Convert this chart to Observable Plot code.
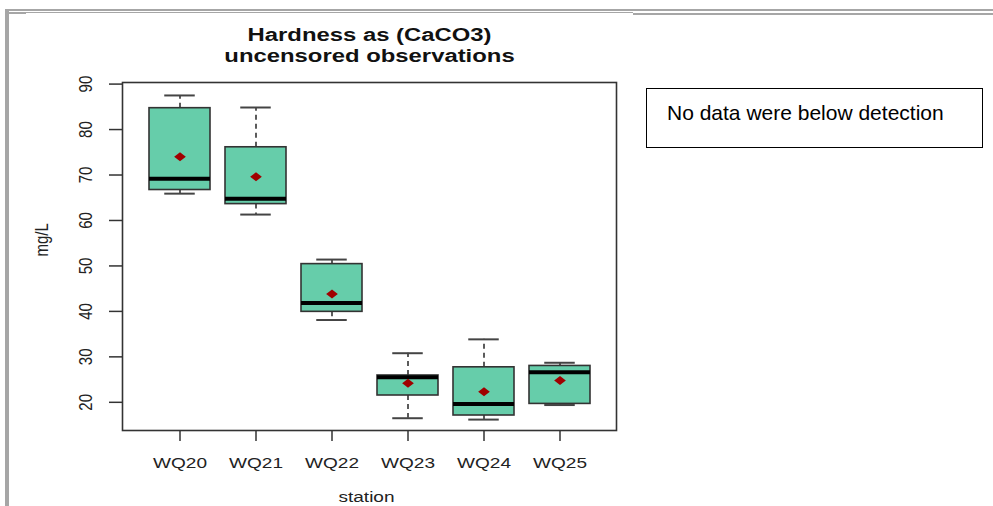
<!DOCTYPE html>
<html>
<head>
<meta charset="utf-8">
<script src="https://cdn.jsdelivr.net/npm/d3@7"></script>
<script src="https://cdn.jsdelivr.net/npm/@observablehq/plot@0.6"></script>
<style>
  html, body { margin: 0; padding: 0; background: #fff; }
  #wrap { position: relative; width: 993px; height: 506px; overflow: hidden; background: #fff; }
  #wrap svg { position: absolute; left: 0; top: 0; }
  .g { position: absolute; background: #a6a6a6; }
  #legend { position: absolute; left: 646px; top: 88px; width: 335px; height: 58px;
    border: 1.5px solid #000; box-sizing: content-box; background: #fff;
    font-family: "Liberation Sans", Arial, sans-serif; font-size: 21px; color: #000; }
  #legend span { position: absolute; left: 20px; top: 12px; white-space: nowrap; }
</style>
</head>
<body>
<div id="wrap">
  <div class="g" style="left:5px;top:9px;width:988px;height:2px"></div>
  <div class="g" style="left:7px;top:12px;width:626px;height:1px"></div>
  <div class="g" style="left:633px;top:13px;width:360px;height:2px"></div>
  <div class="g" style="left:5px;top:9px;width:4px;height:497px"></div>
  <div class="g" style="left:7px;top:13px;width:19px;height:1px"></div>
  <div id="legend"><span>No data were below detection</span></div>
</div>
<script>
const stations = ["WQ20", "WQ21", "WQ22", "WQ23", "WQ24", "WQ25"];
const lowerWhisker = [65.9, 61.3, 38.1, 16.5, 16.2, 19.4];
const q1 = [66.7, 63.6, 39.9, 21.5, 17.1, 19.65];
const median = [69.2, 64.8, 41.85, 25.5, 19.65, 26.6];
const q3 = [84.7, 76.1, 50.4, 25.9, 27.7, 28.0];
const upperWhisker = [87.5, 84.85, 51.4, 30.8, 33.85, 28.7];
const means = [74.0, 69.6, 43.8, 24.2, 22.3, 24.8];
const yTicks = [20, 30, 40, 50, 60, 70, 80, 90];
const titleLines = ["Hardness as (CaCO3)", "uncensored observations"];
const yLabel = "mg/L";
const xLabel = "station";

const rows = stations.map((s, i) => ({
  station: s, lo: lowerWhisker[i], q1: q1[i], med: median[i],
  q3: q3[i], hi: upperWhisker[i], mean: means[i]
}));

const STRETCH = 1.27;
const wideDiamond = {
  draw(ctx, size) {
    const r = Math.sqrt(size / Math.PI);
    const w = r * 1.3;
    ctx.moveTo(0, -r); ctx.lineTo(w, 0); ctx.lineTo(0, r); ctx.lineTo(-w, 0); ctx.closePath();
  }
};

const W = 993, H = 506;
const mL = 122, mR = 377, mT = 82, mB = 76;
const bandwidth = (W - mL - mR) / 6.48 * 0.8;

const font = "Liberation Sans, Arial, Helvetica, sans-serif";
const ink = "#222";

const svg = Plot.plot({
  width: W, height: H,
  marginLeft: mL, marginRight: mR, marginTop: mT, marginBottom: mB,
  style: { fontFamily: font, background: "transparent", color: ink },
  x: { type: "band", domain: stations, paddingInner: 0.2, paddingOuter: 0.34, align: 0.5, label: null },
  y: { domain: [13.8, 90.35], label: null },
  marks: [
    // whiskers
    Plot.ruleX(rows, { x: "station", y1: "q3", y2: "hi", stroke: "#333", strokeWidth: 1.6, strokeDasharray: "5,4" }),
    Plot.ruleX(rows, { x: "station", y1: "q1", y2: "lo", stroke: "#333", strokeWidth: 1.6, strokeDasharray: "5,4" }),
    // caps
    Plot.tickY(rows, { x: "station", y: "hi", stroke: "#444", strokeWidth: 2, insetLeft: bandwidth / 4, insetRight: bandwidth / 4 }),
    Plot.tickY(rows, { x: "station", y: "lo", stroke: "#444", strokeWidth: 2, insetLeft: bandwidth / 4, insetRight: bandwidth / 4 }),
    // boxes
    Plot.barY(rows, { x: "station", y1: "q1", y2: "q3", fill: "#66CDAA", stroke: "#333", strokeWidth: 1.6 }),
    // medians
    Plot.tickY(rows, { x: "station", y: "med", stroke: "#000", strokeWidth: 4 }),
    // means
    Plot.dot(rows, { x: "station", y: "mean", symbol: wideDiamond, r: 4.5, fill: "#a00000", stroke: "none" }),
    // axes
    Plot.axisY(yTicks, { tickSize: 13, tickRotate: -90, lineAnchor: "middle", textAnchor: "middle", tickPadding: 23.5, fontSize: 15, stroke: "#333", strokeWidth: 1.5, fill: ink, label: null }),
    Plot.axisX({ tickSize: 11, tickPadding: 15.5, fontSize: 15, stroke: "#333", strokeWidth: 1.5, fill: ink, label: null }),
    Plot.frame({ stroke: "#333", strokeWidth: 1.6 }),
    // axis titles
    Plot.text([yLabel], { text: d => d, frameAnchor: "left", dx: -81, rotate: -90, fontSize: 15, fill: ink }),
    Plot.text([xLabel], { text: d => d, frameAnchor: "bottom", dy: 61, dx: -3, lineAnchor: "top", fontSize: 15, fill: ink }),
    // title
    Plot.text([titleLines[0]], { text: d => d, frameAnchor: "top", dy: -55, fontSize: 18.8, fontWeight: "bold", fill: "#111" }),
    Plot.text([titleLines[1]], { text: d => d, frameAnchor: "top", dy: -34, fontSize: 18.8, fontWeight: "bold", fill: "#111" })
  ]
});

// horizontal stretch of chart text, as in the reference image
svg.querySelectorAll("text").forEach(t => {
  const tr = t.getAttribute("transform") || "";
  if (/rotate\(-90\)/.test(tr)) t.setAttribute("transform", tr + ` scale(1,${STRETCH})`);
  else t.setAttribute("transform", tr + ` scale(${STRETCH},1)`);
});

document.getElementById("wrap").insertBefore(svg, document.getElementById("legend"));
</script>
</body>
</html>
